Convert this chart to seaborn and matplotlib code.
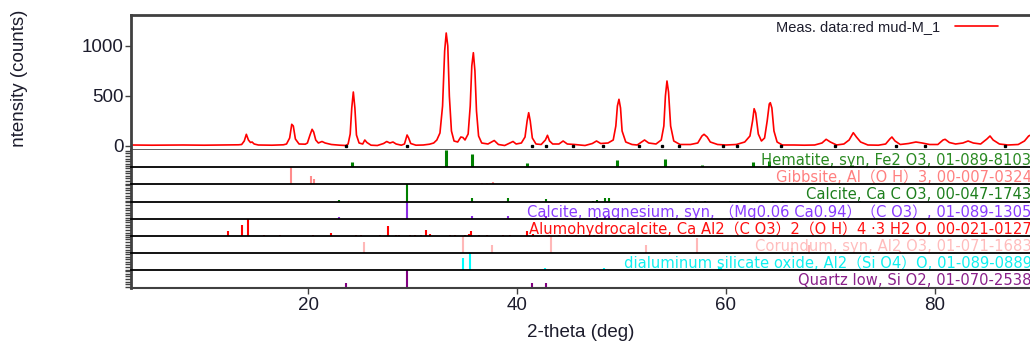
import numpy as np
import pandas as pd
import seaborn as sns
import matplotlib.pyplot as plt
from matplotlib.transforms import Bbox, TransformedBbox

sns.set_style("ticks")
plt.rcParams['font.family'] = ['Liberation Sans', 'DejaVu Sans']

# ---- measured pattern: red mud-M_1 (2-theta in deg, intensity in counts) ----
two_theta = [
    3.0, 5.0, 8.0, 10.0, 12.0, 13.3,
    13.6, 13.85, 14.05, 14.25, 14.45, 14.6, 14.8, 15.2,
    16.5, 17.6,
    17.9, 18.2, 18.4, 18.55, 18.75, 19.1,
    19.7,
    19.9, 20.15, 20.35, 20.5, 20.7, 20.95, 21.3, 21.6, 22.2, 23.0, 23.6,
    23.8, 24.0, 24.15, 24.3, 24.45, 24.6, 24.85, 25.2,
    25.4, 25.6, 26.0, 26.6, 27.2, 27.5, 27.8, 28.1, 28.4, 28.9, 29.2,
    29.45, 29.6, 29.8, 30.3, 31.0, 31.6, 32.0, 32.3,
    32.6, 32.85, 33.05, 33.2, 33.35, 33.5, 33.7, 33.95, 34.3,
    34.6, 34.8, 35.0, 35.3,
    35.5, 35.65, 35.8, 35.95, 36.1, 36.3, 36.6, 37.2, 37.8, 38.2, 38.8,
    39.6, 39.9, 40.4,
    40.75, 40.95, 41.1, 41.25, 41.45, 41.8, 42.3,
    42.7, 42.9, 43.1, 43.4, 44.0, 44.4, 44.8, 45.5, 46.5, 47.2, 47.6,
    48.0, 48.7, 49.2,
    49.45, 49.6, 49.75, 49.9, 50.05, 50.4, 51.0, 51.5, 52.2, 52.6, 53.3,
    53.8,
    54.05, 54.2, 54.35, 54.5, 54.7, 55.0, 55.6, 56.6, 57.3, 57.7, 57.9,
    58.2, 58.5, 59.2, 60.0, 61.0, 61.8, 62.3,
    62.55, 62.7, 62.85, 63.1, 63.4, 63.7, 63.95, 64.15,
    64.25, 64.4, 64.6, 64.9, 65.4, 66.5, 67.5, 68.5, 69.2, 69.6, 70.0,
    70.6, 71.3, 71.8, 72.2, 72.5, 72.9, 73.6, 74.6, 75.3, 75.7, 75.9,
    76.2, 76.7, 77.5, 78.2, 78.8, 79.5, 80.3, 80.8, 81.0, 81.4, 82.0,
    82.7, 83.2, 83.7, 84.4, 85.0, 85.3, 85.6, 86.2, 87.0, 88.0, 88.6,
    89.0, 89.2,
]
counts = [
    10, 8, 10, 8, 10, 12,
    15, 50, 117, 60, 35, 40, 20, 10,
    8, 12,
    20, 80, 217, 200, 70, 20,
    18,
    30, 110, 167, 140, 60, 30, 45, 30, 15, 8, 5,
    20, 120, 380, 540, 380, 110, 30, 20,
    60, 35, 8, 5, 25, 45, 30, 40, 20, 8, 20,
    110, 80, 25, 8, 10, 18, 30, 60,
    130, 400, 950, 1130, 1000, 500, 150, 50, 40,
    90, 85, 60, 120,
    400, 800, 933, 750, 350, 100, 30, 20, 55, 15, 5,
    45, 20, 30,
    90, 250, 333, 250, 80, 20, 15,
    60, 107, 50, 20, 20, 50, 20, 15, 5, 25, 50,
    25, 30, 60,
    200, 400, 467, 380, 150, 40, 15, 10, 60, 30, 20,
    60,
    200, 500, 650, 540, 200, 50, 15, 15, 30, 100, 117,
    90, 40, 15, 10, 15, 40, 100,
    250, 373, 330, 120, 50, 80, 250, 420,
    433, 380, 150, 40, 10, 10, 8, 10, 30, 67, 40,
    10, 20, 60, 133, 90, 40, 10, 8, 20, 70, 90,
    50, 15, 25, 40, 30, 15, 15, 60, 67, 35, 20,
    30, 50, 30, 20, 70, 100, 60, 20, 10, 15, 50,
    100, 110,
]
# background points marked on the baseline
bg_points = [23.6, 29.4, 41.4, 42.75, 45.3, 48.2, 51.7, 53.9, 55.5, 59.7,
             61.1, 65.3, 70.4, 76.3, 79.1, 86.7]

# ---- reference patterns: stick positions (deg) and relative intensities ----
hem_pos = [24.2, 33.2, 35.7, 39.35, 40.9, 43.55, 49.55, 54.2, 56.3, 57.7,
           62.6, 64.1, 69.7, 72.1, 75.5, 78.9, 80.8, 82.9, 84.9, 88.6]
hem_int = [33, 100, 75, 4, 25, 4, 40, 46, 4, 12, 32, 36, 4, 12, 8, 4, 5, 4, 6, 6]

gib_pos = [18.3, 20.25, 20.55, 26.9, 28.0, 36.6, 37.15, 37.7, 41.7, 44.3,
           45.5, 46.2, 47.3, 50.7, 52.2, 53.0, 55.2, 57.4, 63.7, 65.0]
gib_int = [100, 50, 30, 4, 5, 10, 6, 12, 5, 4, 3, 4, 4, 5, 4, 3, 3, 3, 3, 3]

cal_pos = [22.95, 29.4, 35.7, 39.1, 42.8, 47.3, 47.6, 48.45, 48.8, 56.6,
           57.1, 58.0, 60.4, 61.2, 63.0, 64.5, 65.5, 69.0, 70.1, 72.8]
cal_int = [8, 100, 20, 22, 15, 6, 8, 22, 22, 4, 4, 4, 4, 4, 3, 4, 4, 3, 3, 3]

mgc_pos = [22.95, 29.4, 35.7, 39.1, 42.8, 47.3, 47.6, 48.45, 48.8, 56.6,
           57.1, 60.4, 64.5, 65.5]
mgc_int = [10, 100, 15, 18, 14, 6, 8, 16, 16, 4, 4, 4, 4, 4]

ahc_pos = [12.3, 13.6, 14.2, 15.7, 17.3, 20.4, 22.2, 24.6, 25.0, 26.85,
           27.65, 28.4, 28.7, 29.7, 30.2, 30.8, 31.25, 31.65, 33.6, 34.0,
           35.0, 35.35, 35.6, 36.3, 37.1, 38.6, 39.3, 40.9, 41.55, 43.0,
           44.0, 44.8, 45.6, 46.6, 47.4]
ahc_int = [28, 66, 100, 5, 5, 5, 19, 5, 5, 5,
           60, 5, 5, 5, 5, 5, 34, 10, 5, 5,
           5, 10, 30, 5, 5, 5, 5, 27, 10, 4,
           4, 4, 4, 4, 4]

cor_pos = [25.35, 34.8, 37.55, 43.2, 52.35, 57.2, 61.1, 66.3, 68.0, 76.7,
           77.1, 80.5, 84.2, 86.2, 88.8]
cor_int = [66, 100, 49, 100, 48, 90, 4, 30, 50, 15, 5, 5, 5, 5, 5]

dso_pos = [22.0, 24.8, 30.0, 30.15, 34.8, 35.45, 39.3, 40.1, 40.9, 41.7,
           42.65, 48.3, 50.2, 57.9, 59.3, 59.5, 62.0, 64.5, 67.0, 70.0, 75.0]
dso_int = [5, 5, 5, 5, 75, 100, 4, 4, 4, 4, 12, 14, 4, 10, 18, 14, 4, 4, 4, 4, 4]

qtz_pos = [23.6, 29.4, 41.45, 42.8, 45.25, 48.25, 51.3, 54.2, 61.1, 64.5, 68.5, 74.0]
qtz_int = [28, 100, 25, 25, 5, 5, 5, 5, 5, 4, 4, 4]

phase_labels = [
    "Hematite, syn, Fe2 O3, 01-089-8103",
    "Gibbsite, Al（O H）3, 00-007-0324",
    "Calcite, Ca C O3, 00-047-1743",
    "Calcite, magnesium, syn, （Mg0.06 Ca0.94）（C O3）, 01-089-1305",
    "Alumohydrocalcite, Ca Al2（C O3）2（O H）4 ·3 H2 O, 00-021-0127",
    "Corundum, syn, Al2 O3, 01-071-1683",
    "dialuminum silicate oxide, Al2（Si O4）O, 01-089-0889",
    "Quartz low, Si O2, 01-070-2538",
]
phase_pos = [hem_pos, gib_pos, cal_pos, mgc_pos, ahc_pos, cor_pos, dso_pos, qtz_pos]
phase_int = [hem_int, gib_int, cal_int, mgc_int, ahc_int, cor_int, dso_int, qtz_int]
stick_colors = ["#008000", "#ff8c8c", "#008000", "#8a2be2",
                "#ff0000", "#ffb8b8", "#00ffff", "#800080"]
label_colors = ["#2a8a22", "#ff8080", "#1d7f1d", "#8a3cff",
                "#ff1010", "#ffbcbc", "#10f0f0", "#8a208a"]
stick_widths = [2.2, 1.5, 1.5, 1.5, 1.5, 1.5, 1.5, 1.5]

meas_df = pd.DataFrame({"2-theta": two_theta, "counts": counts})

# ---- layout (pixel based) ----
W, H = 1030, 350
LEFT, RIGHT = 131, 1030
MAIN_TOP, MAIN_BOTTOM = 15, 150
PANEL_H = 17.2
XMIN, XMAX = 3.0, 89.13


def rect(top, bottom):
    return [LEFT / W, 1 - bottom / H, (RIGHT - LEFT) / W, (bottom - top) / H]


fig = plt.figure(figsize=(W / 100, H / 100), dpi=100)
tick_color = "#1c1c2c"
spine_dark = "#404040"

ax = fig.add_axes(rect(MAIN_TOP, MAIN_BOTTOM))
sns.lineplot(data=meas_df, x="2-theta", y="counts", ax=ax, color="#ff0000",
             linewidth=1.2, estimator=None, label="Meas. data:red mud-M_1")
ax.plot(bg_points, [2] * len(bg_points), "s", color="black", markersize=1.4, zorder=3)
ax.set_xlim(XMIN, XMAX)
ax.set_ylim(-40, 1310)
ax.set_yticks([0, 500, 1000])
ax.set_xticks([])
ax.tick_params(axis="x", bottom=False, labelbottom=False)
ax.set_xlabel("")
ax.set_ylabel("")
ax.tick_params(axis="y", direction="out", length=4.5, width=1, pad=1,
               labelsize=13.5, colors=spine_dark, labelcolor=tick_color)
for side in ["top", "left"]:
    ax.spines[side].set_color(spine_dark)
    ax.spines[side].set_linewidth(2)
ax.spines["bottom"].set_color("#505050")
ax.spines["bottom"].set_linewidth(2)
ax.spines["right"].set_visible(False)
ax.legend(loc="center right", bbox_to_anchor=(998 / W, 1 - 27 / H),
          bbox_transform=fig.transFigure, frameon=False, markerfirst=False,
          handlelength=2.95, handletextpad=1.0, borderpad=0, borderaxespad=0,
          fontsize=10.5, labelcolor=tick_color)

stick_ticks = [5, 20, 35, 50, 65, 80, 95]
for i in range(8):
    top = MAIN_BOTTOM + i * PANEL_H
    sax = fig.add_axes(rect(top, top + PANEL_H))
    sax.vlines(phase_pos[i], 0, phase_int[i], color=stick_colors[i],
               linewidth=stick_widths[i])
    sax.set_ylim(0, 100)
    sax.set_xlim(XMIN, XMAX)
    sax.set_yticks(stick_ticks)
    sax.set_yticklabels([])
    sax.tick_params(axis="y", direction="out", length=4.5, width=1,
                    colors=spine_dark)
    sax.spines["right"].set_visible(False)
    sax.spines["left"].set_color(spine_dark)
    sax.spines["left"].set_linewidth(2)
    sax.spines["top"].set_visible(i > 0)
    sax.spines["top"].set_color("black")
    sax.spines["top"].set_linewidth(1.3)
    last = i == 7
    sax.spines["bottom"].set_visible(last)
    sax.spines["bottom"].set_color(spine_dark)
    sax.spines["bottom"].set_linewidth(1.5)
    if last:
        sax.set_xticks([20, 40, 60, 80])
        sax.tick_params(axis="x", direction="out", length=4.5, width=1, pad=2.5,
                        labelsize=13.5, colors=spine_dark, labelcolor=tick_color)
        sax.set_xlabel("2-theta (deg)", fontsize=13.5, color=tick_color, labelpad=7)
    else:
        sax.set_xticks([])
        sax.tick_params(axis="x", bottom=False, labelbottom=False)
    sax.text(1.0 + 1.5 / (RIGHT - LEFT), 0.13, phase_labels[i],
             transform=sax.transAxes, ha="right", va="baseline", fontsize=10.6,
             color=label_colors[i], family=["DejaVu Sans", "Noto Sans CJK JP"],
             clip_on=False, zorder=5)

# y-axis title, cut at the bottom of the measurement panel
ylab = fig.text(20 / W, 1 - 10 / H, "Intensity (counts)", rotation=90,
                ha="center", va="top", fontsize=13.5, color=tick_color)
ylab.set_clip_box(TransformedBbox(Bbox([[0, 1 - 148.5 / H], [1, 1]]), fig.transFigure))
ylab.set_clip_on(True)

fig.savefig("out.png", dpi=100)
